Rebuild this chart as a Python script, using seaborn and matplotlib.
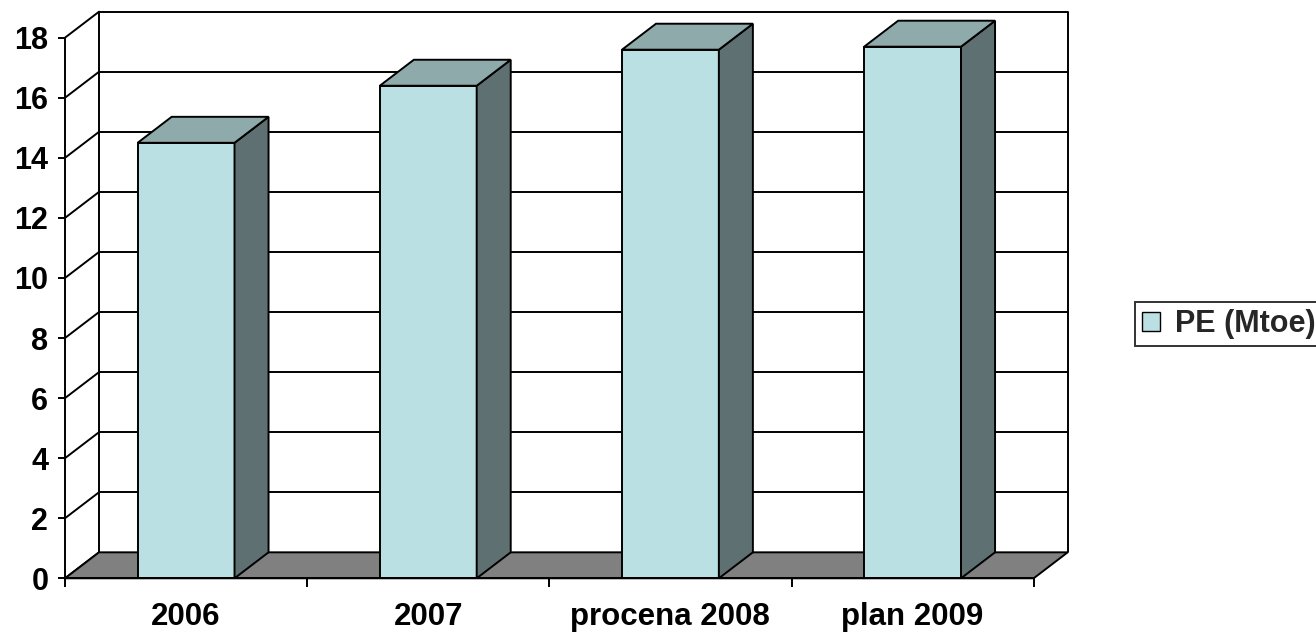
import numpy as np
import pandas as pd
import matplotlib
matplotlib.use('Agg')
import matplotlib.pyplot as plt
import seaborn as sns
from matplotlib.patches import Polygon, Patch

# ---- data ----
categories = ['2006', '2007', 'procena 2008', 'plan 2009']
values = [14.5, 16.4, 17.6, 17.7]
series_name = 'PE (Mtoe)'
yticks = [0, 2, 4, 6, 8, 10, 12, 14, 16, 18]

# ---- style ----
FRONT = '#BBE0E3'
TOP = '#8FAAAB'
SIDE = '#5F7072'
FLOOR = '#808080'
LW = 1.4

sns.set_theme(style='white')
plt.rcParams['font.family'] = ['Liberation Sans', 'DejaVu Sans']
plt.rcParams['font.weight'] = 'bold'

W, H = 1316, 632
fig = plt.figure(figsize=(W / 100, H / 100), dpi=100)
ax = fig.add_axes([65 / W, (H - 578.3) / H, 1002.7 / W, 566.6 / H])

df = pd.DataFrame({'cat': categories, 'val': values})
sns.barplot(data=df, x='cat', y='val', width=0.4, color=FRONT, saturation=1,
            edgecolor='black', linewidth=LW, ax=ax, zorder=4)

# depth offsets in data units (3D look)
ymax = yticks[-1]
dxd = 34 / 242.0
dyd = 26 / 30.06
x0a, x1a = -0.5, len(categories) - 0.5
ax.set_xlim(x0a, x1a + dxd)
ax.set_ylim(0, ymax + dyd)

# floor
floor = Polygon([(x0a, 0), (x1a, 0), (x1a + dxd, dyd), (x0a + dxd, dyd)], closed=True,
                facecolor=FLOOR, edgecolor='black', linewidth=LW, zorder=2, clip_on=False)
ax.add_patch(floor)

# back wall gridlines and left wall diagonals
for v in yticks:
    if v > 0:
        ax.plot([x0a + dxd, x1a + dxd], [v + dyd, v + dyd], color='black', lw=LW, zorder=1,
                solid_capstyle='butt', clip_on=False)
    ax.plot([x0a, x0a + dxd], [v, v + dyd], color='black', lw=LW, zorder=1, clip_on=False)
ax.plot([x0a + dxd, x0a + dxd], [dyd, ymax + dyd], color='black', lw=LW, zorder=1, clip_on=False)
ax.plot([x1a + dxd, x1a + dxd], [dyd, ymax + dyd], color='black', lw=LW, zorder=1, clip_on=False)

# 3D top and side faces of bars
for p in list(ax.patches):
    if p is floor:
        continue
    bx, bw, bh = p.get_x(), p.get_width(), p.get_height()
    top = Polygon([(bx, bh), (bx + bw, bh), (bx + bw + dxd, bh + dyd), (bx + dxd, bh + dyd)],
                  closed=True, facecolor=TOP, edgecolor='black', linewidth=LW, zorder=4)
    side = Polygon([(bx + bw, 0), (bx + bw + dxd, dyd), (bx + bw + dxd, bh + dyd), (bx + bw, bh)],
                   closed=True, facecolor=SIDE, edgecolor='black', linewidth=LW, zorder=4)
    ax.add_patch(side)
    ax.add_patch(top)

# axes / spines
for s in ['top', 'right']:
    ax.spines[s].set_visible(False)
ax.spines['left'].set_bounds(0, ymax)
ax.spines['bottom'].set_bounds(x0a, x1a)
for s in ['left', 'bottom']:
    ax.spines[s].set_linewidth(LW)
    ax.spines[s].set_color('black')
    ax.spines[s].set_zorder(5)

ax.set_yticks(yticks)
ax.set_yticklabels([str(t) for t in yticks])
ax.set_xticks(range(len(categories)))
ax.set_xticklabels(categories)
ax.set_xticks(np.arange(len(categories) + 1) - 0.5, minor=True)
ax.tick_params(axis='y', which='major', left=True, direction='out', length=5, width=LW,
               color='black', pad=7, labelsize=22, labelcolor='black')
ax.tick_params(axis='x', which='major', bottom=True, length=0, pad=17, labelsize=22.5,
               labelcolor='black')
ax.tick_params(axis='x', which='minor', bottom=True, direction='out', length=6.5, width=LW,
               color='black')
ax.set_xlabel('')
ax.set_ylabel('')
ax.grid(False)
ax.set_facecolor('white')

# legend
handles = [Patch(facecolor=FRONT, edgecolor='black', linewidth=1)]
leg = fig.legend(handles, [series_name], loc='center left',
                 bbox_to_anchor=(1135 / W, 1 - 324 / H), frameon=True, fancybox=False,
                 edgecolor='black', fontsize=22, handlelength=0.6, handleheight=0.6,
                 handletextpad=0.5, borderpad=0.22, borderaxespad=0)
leg.get_frame().set_linewidth(LW)
for t in leg.get_texts():
    t.set_fontweight('bold')

fig.savefig('out.png', dpi=100)
